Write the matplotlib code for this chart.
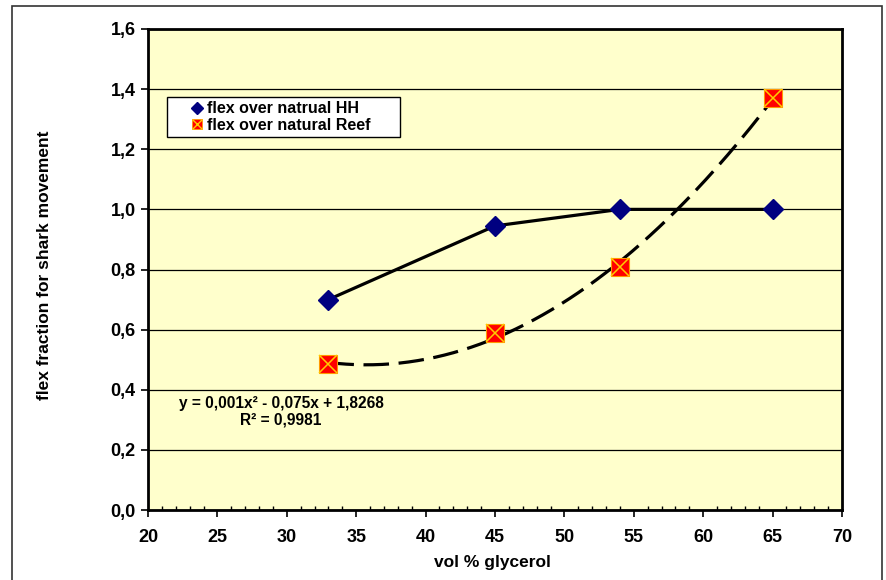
import numpy as np
import matplotlib
matplotlib.use("Agg")
import matplotlib.pyplot as plt
from matplotlib.patches import Rectangle
from matplotlib.legend_handler import HandlerTuple
from matplotlib.lines import Line2D
from matplotlib.ticker import MultipleLocator, FuncFormatter

plt.rcParams['font.family'] = ['Liberation Sans', 'DejaVu Sans']
plt.rcParams['font.weight'] = 'bold'

# data
glycerol = [33, 45, 54, 65]
flex_hh = [0.70, 0.945, 1.0, 1.0]
flex_reef = [0.486, 0.589, 0.808, 1.371]
hh_label = 'flex over natrual HH'
reef_label = 'flex over natural Reef'
fit_text = 'y = 0,001x² - 0,075x + 1,8268\nR² = 0,9981'

fig = plt.figure(figsize=(8.87, 5.80), dpi=100)
# outer chart border
fig.patches.append(Rectangle((12 / 887, -0.01), 870 / 887, 1 - 6 / 580 + 0.01,
                             transform=fig.transFigure, fill=False,
                             edgecolor='#333333', linewidth=1.2))

ax = fig.add_axes([148 / 887, 1 - 510 / 580, 694 / 887, 481 / 580])
ax.set_facecolor('#FFFFCC')

# quadratic trendline through the reef points
coef = np.polyfit(glycerol, flex_reef, 2)
xs = np.linspace(min(glycerol), max(glycerol), 200)
ax.plot(xs, np.polyval(coef, xs), color='black', linewidth=2.3,
        linestyle=(0, (8, 3)), zorder=3)

ax.plot(glycerol, flex_hh, color='black', linewidth=2.3, zorder=3)
ax.plot(glycerol, flex_hh, linestyle='none', marker='D', markersize=10.5,
        color='#000080', zorder=4)
ax.plot(glycerol, flex_reef, linestyle='none', marker='s', markersize=13,
        markerfacecolor='#FF0000', markeredgecolor='#FF9900',
        markeredgewidth=0.8, zorder=4)
ax.plot(glycerol, flex_reef, linestyle='none', marker='x', markersize=12.5,
        markeredgecolor='#FFCC00', markeredgewidth=1.1, zorder=5)

ax.set_xlim(20, 70)
ax.set_ylim(0, 1.6)
ax.xaxis.set_major_locator(MultipleLocator(5))
ax.xaxis.set_minor_locator(MultipleLocator(1))
ax.yaxis.set_major_locator(MultipleLocator(0.2))
ax.yaxis.set_major_formatter(FuncFormatter(lambda v, p: f'{v:.1f}'.replace('.', ',')))
ax.grid(axis='y', color='black', linewidth=0.9)
ax.set_axisbelow(True)

for s in ax.spines.values():
    s.set_linewidth(2)
ax.tick_params(axis='both', which='major', labelsize=13, direction='out',
               length=5, width=1.2, pad=4)
ax.tick_params(axis='x', which='minor', direction='in', length=3, width=1)
ax.tick_params(axis='x', which='major', pad=9)
for lab in ax.get_xticklabels() + ax.get_yticklabels():
    lab.set_fontweight('bold')

fig.text(492 / 887, 1 - 563 / 580, 'vol % glycerol', ha='center', va='center',
         fontsize=12.5, fontweight='bold')
fig.text(45 / 887, 1 - 265 / 580, 'flex fraction for shark movement',
         ha='center', va='center', rotation=90, fontsize=12.5, fontweight='bold')

ax.text(281 / 887, 1 - 412 / 580, fit_text, transform=fig.transFigure,
        ha='center', va='center', multialignment='center', fontsize=11.2,
        fontweight='bold', linespacing=1.15)

# legend frame drawn separately so it can be wider than its content
fig.patches.append(Rectangle((167 / 887, 1 - 137 / 580), 233 / 887, 40 / 580,
                             transform=fig.transFigure, facecolor='white',
                             edgecolor='black', linewidth=1, zorder=5))
h_hh = Line2D([], [], linestyle='none', marker='D', markersize=6, color='#000080')
h_sq = Line2D([], [], linestyle='none', marker='s', markersize=7,
              markerfacecolor='#FF0000', markeredgecolor='#FF9900', markeredgewidth=0.6)
h_x = Line2D([], [], linestyle='none', marker='x', markersize=6.5,
             markeredgecolor='#FFCC00', markeredgewidth=1)
leg = fig.legend([h_hh, (h_sq, h_x)], [hh_label, reef_label],
                 handler_map={tuple: HandlerTuple(ndivide=1, pad=0)},
                 loc='center left', bbox_to_anchor=(191 / 887, 1 - 117 / 580),
                 bbox_transform=fig.transFigure, borderaxespad=0,
                 frameon=False, handlelength=0.7, handletextpad=0.3,
                 labelspacing=0.1, borderpad=0,
                 prop={'size': 11.5, 'weight': 'bold'})
leg.set_zorder(6)

fig.savefig('out.png', dpi=100)
